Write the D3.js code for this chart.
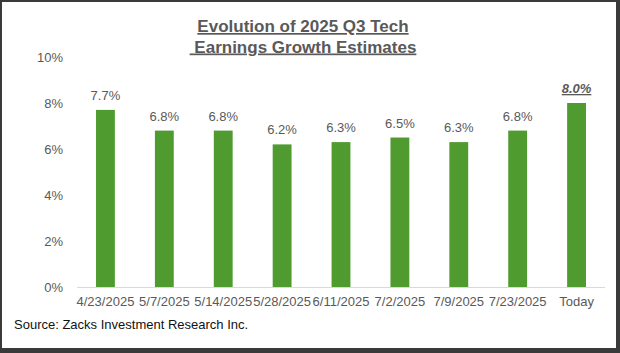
<!DOCTYPE html>
<html>
<head>
<meta charset="utf-8">
<script src="https://cdn.jsdelivr.net/npm/d3@7"></script>
<style>
  body { margin: 0; background: #fff; }
  text { font-family: "Liberation Sans", Arial, sans-serif; }
</style>
</head>
<body>
<svg id="chart" width="620" height="353"></svg>
<script>
var dates = ['4/23/2025', '5/7/2025', '5/14/2025', '5/28/2025', '6/11/2025', '7/2/2025', '7/9/2025', '7/23/2025', 'Today'];
var growth = [7.7, 6.8, 6.8, 6.2, 6.3, 6.5, 6.3, 6.8, 8.0];
var yTicks = [0, 2, 4, 6, 8, 10];
var titleLines = ['Evolution of 2025 Q3 Tech', '\u00a0Earnings Growth Estimates'];
var sourceNote = 'Source: Zacks Investment Research Inc.';

var svg = d3.select('#chart');
var svgWidth = +svg.attr('width');
var svgHeight = +svg.attr('height');
var green = '#4f9b30';
var grey = '#595959';

// frame
svg.append('rect')
  .attr('width', svgWidth)
  .attr('height', svgHeight)
  .style('fill', '#3a3a3a');
svg.append('rect')
  .attr('x', 2).attr('y', 2)
  .attr('width', 614).attr('height', 346)
  .style('fill', '#fff');

var data = dates.map(function (d, i) { return { date: d, value: growth[i] }; });

var xScale = d3.scaleBand()
  .domain(dates)
  .range([76, 606])
  .paddingInner(0.68)
  .paddingOuter(0.34);

var yScale = d3.scaleLinear()
  .domain([0, 10])
  .range([287, 57]);

// title
var title = svg.append('text')
  .attr('text-anchor', 'middle')
  .style('font-size', '17px')
  .style('font-weight', 'bold')
  .style('fill', grey)
  .style('text-decoration', 'underline')
  .style('white-space', 'pre');
title.selectAll('tspan')
  .data(titleLines)
  .enter().append('tspan')
  .attr('x', 303)
  .attr('y', (d, i) => 32 + i * 20.5)
  .text(d => d);

// y axis labels
var yAxisG = svg.append('g')
  .attr('transform', 'translate(63,0)')
  .call(d3.axisLeft(yScale).tickValues(yTicks).tickSize(0).tickPadding(0).tickFormat(d => d + '%'));
yAxisG.select('.domain').remove();
yAxisG.selectAll('text')
  .style('font-size', '13px')
  .style('fill', grey)
  .style('font-family', '"Liberation Sans", Arial, sans-serif');

// bars
svg.selectAll('.bar')
  .data(data)
  .enter().append('rect')
  .attr('class', 'bar')
  .attr('x', d => xScale(d.date))
  .attr('y', d => yScale(d.value))
  .attr('width', xScale.bandwidth())
  .attr('height', d => yScale(0) - yScale(d.value))
  .style('fill', green);

// x axis
var xAxisG = svg.append('g')
  .attr('transform', 'translate(0,' + yScale(0) + ')')
  .call(d3.axisBottom(xScale).tickSize(0).tickPadding(10).tickSizeOuter(0));
xAxisG.select('.domain')
  .attr('d', 'M77,0.5H605')
  .style('stroke', '#d9d9d9');
xAxisG.selectAll('text')
  .style('font-size', '13px')
  .style('fill', grey)
  .style('font-family', '"Liberation Sans", Arial, sans-serif');

// data labels
svg.selectAll('.val')
  .data(data)
  .enter().append('text')
  .attr('class', 'val')
  .attr('x', d => xScale(d.date) + xScale.bandwidth() / 2)
  .attr('y', d => yScale(d.value) - 10)
  .attr('text-anchor', 'middle')
  .style('font-size', '13px')
  .style('fill', grey)
  .style('font-weight', d => d.date === 'Today' ? 'bold' : 'normal')
  .style('font-style', d => d.date === 'Today' ? 'italic' : 'normal')
  .style('text-decoration', d => d.date === 'Today' ? 'underline' : 'none')
  .text(d => d.value.toFixed(1) + '%');

// source
svg.append('text')
  .attr('x', 14)
  .attr('y', 329)
  .style('font-size', '13px')
  .style('fill', '#111')
  .text(sourceNote);
</script>
</body>
</html>
